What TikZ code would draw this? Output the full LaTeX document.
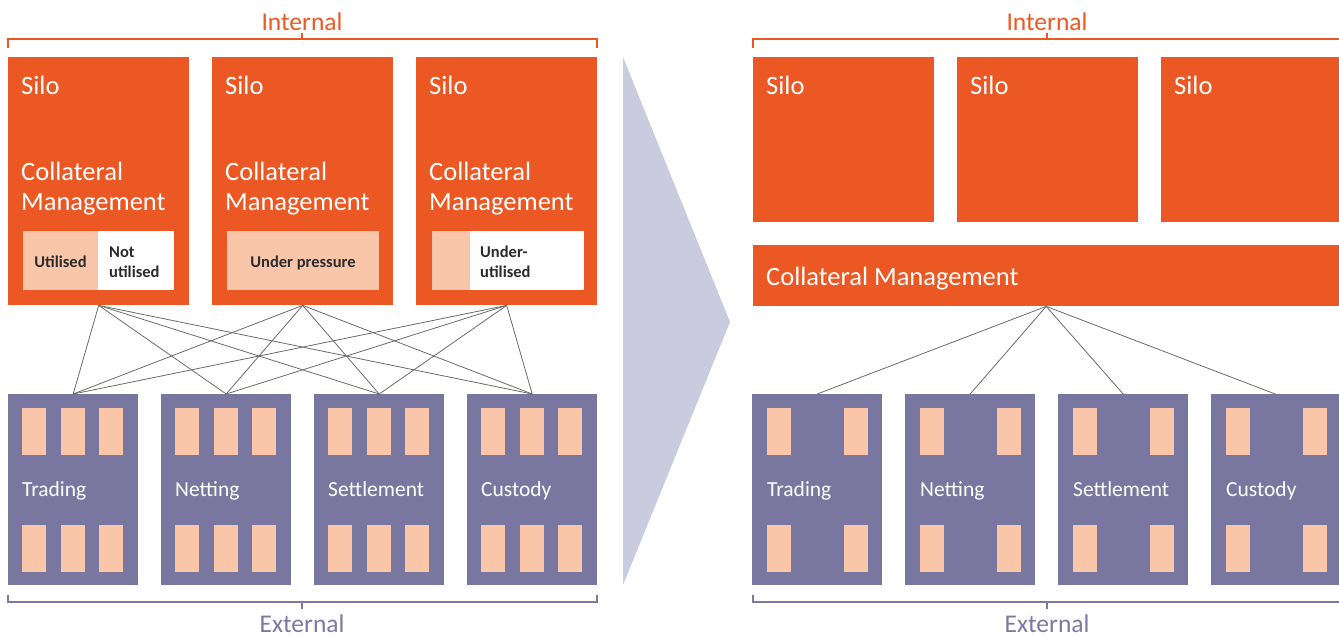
\documentclass[tikz,border=0pt]{standalone}
\usepackage{fontspec}
\setmainfont{Carlito}
\definecolor{orng}{HTML}{EC5823}
\definecolor{peach}{HTML}{F9C6A9}
\definecolor{purp}{HTML}{79779F}
\definecolor{lav}{HTML}{CBCBDF}
\definecolor{extc}{HTML}{7B78A3}
\definecolor{linec}{HTML}{6A6A6A}
\definecolor{darktxt}{HTML}{2B2B2B}
\tikzset{
  silobox/.style={fill=orng, draw=none, inner sep=0pt, anchor=north west},
  extbox/.style={fill=purp, draw=none, inner sep=0pt, anchor=north west, minimum width=130pt, minimum height=191pt},
  bigtxt/.style={text=white, inner sep=0pt, anchor=base west, font=\fontsize{26.5}{30}\selectfont, align=left},
  exttxt/.style={text=white, inner sep=0pt, anchor=base west, font=\fontsize{21.5}{24}\selectfont},
  smalltxt/.style={text=darktxt, inner sep=0pt, font=\bfseries\fontsize{16.5}{20}\selectfont, align=left},
  barpart/.style={inner sep=0pt, anchor=north west, minimum height=59pt},
  conn/.style={draw=linec, line width=0.8pt},
  bracketI/.style={draw=orng, line width=1.3pt},
  bracketE/.style={draw=extc, line width=1.3pt},
  headI/.style={text=orng, inner sep=0pt, anchor=base, font=\fontsize{25.5}{28}\selectfont},
  headE/.style={text=extc, inner sep=0pt, anchor=base, font=\fontsize{25.5}{28}\selectfont},
}
\begin{document}
\begin{tikzpicture}[x=1pt,y=-1pt]
\useasboundingbox (0,0) rectangle (1339,637);

% ---------- LEFT PANEL ----------
\node[headI] (intL) at (302,30) {Internal};
\coordinate (iLa) at (8,48);
\coordinate (iLb) at (597,48);
\coordinate (iLm) at (302,33);
\draw[bracketI] (iLa) |- (302,39) -| (iLb);
\draw[bracketI] (302,39) -- (iLm);

\node[silobox, minimum width=181pt, minimum height=248pt] (s1) at (8,57) {};
\node[silobox, minimum width=181pt, minimum height=248pt] (s2) at (212,57) {};
\node[silobox, minimum width=181pt, minimum height=248pt] (s3) at (416,57) {};

\foreach \n/\x in {1/21, 2/225, 3/429}{
  \node[bigtxt] (s\n silo) at (\x,94) {Silo};
  \node[bigtxt] (s\n cm) at (\x,210) {Collateral\\Management};
}

\node[barpart, fill=peach, minimum width=75pt] (b1a) at (23,231) {};
\node[barpart, fill=white, minimum width=76pt] (b1b) at (98,231) {};
\node[smalltxt, anchor=base] (b1at) at (60.5,267) {Utilised};
\node[smalltxt, anchor=base west] (b1bt) at (109,277) {Not\\utilised};

\node[barpart, fill=peach, minimum width=152pt] (b2a) at (227,231) {};
\node[smalltxt, anchor=base] (b2at) at (303,267) {Under pressure};

\node[barpart, fill=peach, minimum width=38pt] (b3a) at (432,231) {};
\node[barpart, fill=white, minimum width=114pt] (b3b) at (470,231) {};
\node[smalltxt, anchor=base west] (b3bt) at (480,277) {Under-\\utilised};

\foreach \n/\x/\lab in {1/8/Trading, 2/161/Netting, 3/314/Settlement, 4/467/Custody}{
  \node[extbox] (e\n) at (\x,394) {};
  \foreach \dx in {14,53,91}{
    \fill[peach] (\x+\dx,408) rectangle (\x+\dx+24,455);
    \fill[peach] (\x+\dx,525) rectangle (\x+\dx+24,572);
  }
  \node[exttxt] (e\n t) at (\x+14,496) {\lab};
}

\foreach \s in {1,2,3}{
  \foreach \e in {1,2,3,4}{
    \draw[conn] (s\s.south) -- (e\e.north);
  }
}

\node[headE] (extL) at (302,632) {External};
\coordinate (eLa) at (8,595);
\coordinate (eLb) at (597,595);
\coordinate (eLm) at (302,609);
\draw[bracketE] (eLa) |- (302,602) -| (eLb);
\draw[bracketE] (302,602) -- (eLm);

% ---------- ARROW TRIANGLE ----------
\fill[lav] (623,57) -- (730,322) -- (623,585) -- cycle;

% ---------- RIGHT PANEL ----------
\node[headI] (intR) at (1047,30) {Internal};
\coordinate (iRa) at (753,48);
\coordinate (iRm) at (1047,33);
\draw[bracketI] (iRa) |- (1339,39);
\draw[bracketI] (1047,39) -- (iRm);

\node[silobox, minimum width=181pt, minimum height=165pt] (r1) at (753,57) {};
\node[silobox, minimum width=181pt, minimum height=165pt] (r2) at (957,57) {};
\node[silobox, minimum width=178pt, minimum height=165pt] (r3) at (1161,57) {};
\node[bigtxt] (r1t) at (766,94) {Silo};
\node[bigtxt] (r2t) at (970,94) {Silo};
\node[bigtxt] (r3t) at (1174,94) {Silo};

\node[silobox, minimum width=586pt, minimum height=61pt] (cm) at (753,245) {};
\node[bigtxt] (cmt) at (766,285) {Collateral Management};

\foreach \n/\x/\w/\lab in {1/752/130/Trading, 2/905/130/Netting, 3/1058/130/Settlement, 4/1211/128/Custody}{
  \node[extbox, minimum width=\w pt] (f\n) at (\x,394) {};
  \foreach \dx in {15,92}{
    \fill[peach] (\x+\dx,408) rectangle (\x+\dx+24,455);
    \fill[peach] (\x+\dx,525) rectangle (\x+\dx+24,572);
  }
  \node[exttxt] (f\n t) at (\x+15,496) {\lab};
}
\foreach \e in {1,2,3,4}{
  \draw[conn] (cm.south) -- (f\e.north);
}

\node[headE] (extR) at (1047,632) {External};
\coordinate (eRa) at (753,595);
\coordinate (eRm) at (1047,609);
\draw[bracketE] (eRa) |- (1339,602);
\draw[bracketE] (1047,602) -- (eRm);
\end{tikzpicture}
\end{document}
